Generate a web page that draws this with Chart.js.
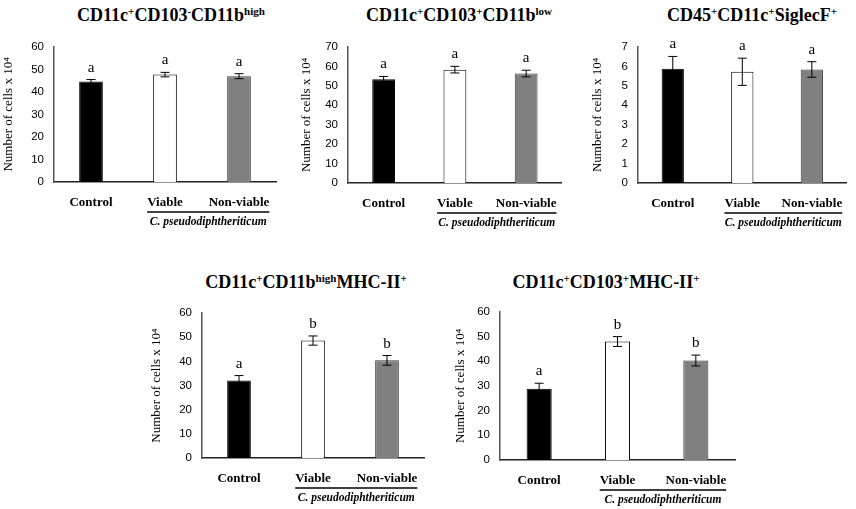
<!DOCTYPE html>
<html lang="en">
<head>
<meta charset="UTF-8">
<title>Lung dendritic cell populations</title>
<script src="https://cdn.jsdelivr.net/npm/chart.js@4"></script>
<style>
    body { margin: 0; background: #fff; width: 856px; height: 509px; position: relative; overflow: hidden; }
    canvas { position: absolute; }
    .title {
        position: absolute; white-space: nowrap; transform: translateX(-50%);
        font-family: "Liberation Serif", "Times New Roman", serif; font-weight: bold;
        font-size: 18px; line-height: 20px; color: #000;
    }
    .title sup { font-size: 11px; line-height: 0; vertical-align: 6px; }
</style>
</head>
<body>
<div class="title" style="left:171px;top:5px">CD11c<sup>+</sup>CD103<sup>-</sup>CD11b<sup>high</sup></div>
<div class="title" style="left:459px;top:5px">CD11c<sup>+</sup>CD103<sup>+</sup>CD11b<sup>low</sup></div>
<div class="title" style="left:752px;top:5px">CD45<sup>+</sup>CD11c<sup>+</sup>SiglecF<sup>+</sup></div>
<div class="title" style="left:306px;top:272px">CD11c<sup>+</sup>CD11b<sup>high</sup>MHC-II<sup>+</sup></div>
<div class="title" style="left:606px;top:272px">CD11c<sup>+</sup>CD103<sup>+</sup>MHC-II<sup>+</sup></div>

<canvas id="c1"></canvas>
<canvas id="c2"></canvas>
<canvas id="c3"></canvas>
<canvas id="c4"></canvas>
<canvas id="c5"></canvas>

<script>
// categories and group label
const categories = ['Control', 'Viable', 'Non-viable'];
const groupLabel = 'C. pseudodiphtheriticum';
const yTitle = 'Number of cells x 10\u2074';

// CD11c+CD103-CD11b high
const cd11bHighMeans = [44.6, 47.7, 47.0];
const cd11bHighErrs = [0.9, 1.0, 1.1];
const cd11bHighLetters = ['a', 'a', 'a'];

// CD11c+CD103+CD11b low
const cd11bLowMeans = [53.3, 58.3, 56.3];
const cd11bLowErrs = [1.5, 1.7, 1.7];
const cd11bLowLetters = ['a', 'a', 'a'];

// CD45+CD11c+SiglecF+
const siglecMeans = [5.88, 5.72, 5.84];
const siglecErrs = [0.63, 0.7, 0.4];
const siglecLetters = ['a', 'a', 'a'];

// CD11c+CD11b high MHC-II+
const mhcCd11bMeans = [32.1, 48.6, 40.4];
const mhcCd11bErrs = [2.0, 1.9, 2.0];
const mhcCd11bLetters = ['a', 'b', 'b'];

// CD11c+CD103+MHC-II+
const mhcCd103Means = [28.9, 48.0, 40.3];
const mhcCd103Errs = [2.2, 2.0, 2.2];
const mhcCd103Letters = ['a', 'b', 'b'];

const serif = '"Liberation Serif", "Times New Roman", serif';
const sans = '"Liberation Sans", Arial, sans-serif';

// error bars, letters and the bracket under Viable / Non-viable
const extras = {
    id: 'extras',
    afterDatasetsDraw(chart, args, opts) {
        const { ctx, scales: { x, y } } = chart;
        const meta = chart.getDatasetMeta(0);
        ctx.save();
        meta.data.forEach((bar, i) => {
            const m = opts.means[i], e = opts.errs[i];
            const yTop = y.getPixelForValue(m + e);
            const yBot = y.getPixelForValue(m - e);
            const cx = bar.x;
            ctx.strokeStyle = '#000';
            ctx.lineWidth = 1;
            ctx.beginPath();
            ctx.moveTo(cx, yTop); ctx.lineTo(cx, yBot);
            ctx.moveTo(cx - 4.5, yTop); ctx.lineTo(cx + 4.5, yTop);
            ctx.moveTo(cx - 4.5, yBot); ctx.lineTo(cx + 4.5, yBot);
            ctx.stroke();

            ctx.fillStyle = '#000';
            ctx.font = '15px ' + serif;
            ctx.textAlign = 'center';
            ctx.textBaseline = 'alphabetic';
            ctx.fillText(opts.letters[i], cx, yTop - 8);
        });

        ctx.font = 'bold 13px ' + serif;
        const x1 = x.getPixelForValue(1) - ctx.measureText(categories[1]).width / 2;
        const x2 = x.getPixelForValue(2) + ctx.measureText(categories[2]).width / 2;
        const ly = x.top + 30;
        ctx.lineWidth = 1.3;
        ctx.beginPath();
        ctx.moveTo(x1, ly); ctx.lineTo(x2, ly);
        ctx.stroke();
        ctx.font = 'italic bold 11.5px ' + serif;
        ctx.textAlign = 'center';
        ctx.textBaseline = 'middle';
        ctx.fillText(groupLabel, (x1 + x2) / 2, ly + 10);
        ctx.restore();
    }
};

function makeChart(id, box, area, means, errs, letters, yMax, step) {
    const cv = document.getElementById(id);
    cv.width = box.w; cv.height = box.h;
    cv.style.left = box.x + 'px'; cv.style.top = box.y + 'px';
    cv.style.width = box.w + 'px'; cv.style.height = box.h + 'px';

    return new Chart(cv.getContext('2d'), {
        type: 'bar',
        data: {
            labels: categories,
            datasets: [{
                data: means,
                backgroundColor: ['#000000', '#ffffff', '#808080'],
                borderColor: ['#000000', '#000000', '#3a3a3a'],
                borderWidth: 1,
                barPercentage: 0.32,
                categoryPercentage: 1
            }]
        },
        options: {
            responsive: false,
            animation: false,
            devicePixelRatio: 1,
            layout: {
                padding: { left: 0, bottom: 0, top: area.top - box.y, right: box.x + box.w - area.right }
            },
            plugins: {
                legend: { display: false },
                tooltip: { enabled: false },
                extras: { means, errs, letters }
            },
            scales: {
                x: {
                    grid: { display: false, drawTicks: false },
                    border: { display: true, color: '#222', width: 1.5 },
                    ticks: { color: '#000', font: { family: serif, weight: 'bold', size: 13 }, padding: 13, maxRotation: 0, autoSkip: false },
                    afterFit: s => { s.height = box.y + box.h - area.bottom; }
                },
                y: {
                    min: 0, max: yMax,
                    grid: { display: false, drawTicks: false },
                    border: { display: true, color: '#555', width: 1.5 },
                    ticks: { stepSize: step, color: '#000', font: { family: sans, size: 11.5 }, padding: 10 },
                    title: { display: true, text: yTitle, color: '#000', font: { family: serif, size: 13 }, padding: 0 },
                    afterFit: s => { s.width = area.l - box.x; }
                }
            }
        },
        plugins: [extras]
    });
}

try {
    makeChart('c1', { x: 1, y: 30, w: 284, h: 205 }, { l: 54, right: 276, top: 43, bottom: 182 },
        cd11bHighMeans, cd11bHighErrs, cd11bHighLetters, 60, 10);
    makeChart('c2', { x: 299, y: 30, w: 272, h: 205 }, { l: 348, right: 562, top: 43, bottom: 183 },
        cd11bLowMeans, cd11bLowErrs, cd11bLowLetters, 70, 10);
    makeChart('c3', { x: 590, y: 30, w: 266, h: 205 }, { l: 638, right: 851, top: 43, bottom: 183 },
        siglecMeans, siglecErrs, siglecLetters, 7, 1);
    makeChart('c4', { x: 149, y: 295, w: 290, h: 214 }, { l: 202, right: 424, top: 313, bottom: 458 },
        mhcCd11bMeans, mhcCd11bErrs, mhcCd11bLetters, 60, 10);
    makeChart('c5', { x: 453, y: 295, w: 300, h: 214 }, { l: 500, right: 735, top: 308, bottom: 460 },
        mhcCd103Means, mhcCd103Errs, mhcCd103Letters, 60, 10);
} catch (err) {
    console.error('Error rendering charts:', err);
}
</script>
</body>
</html>
